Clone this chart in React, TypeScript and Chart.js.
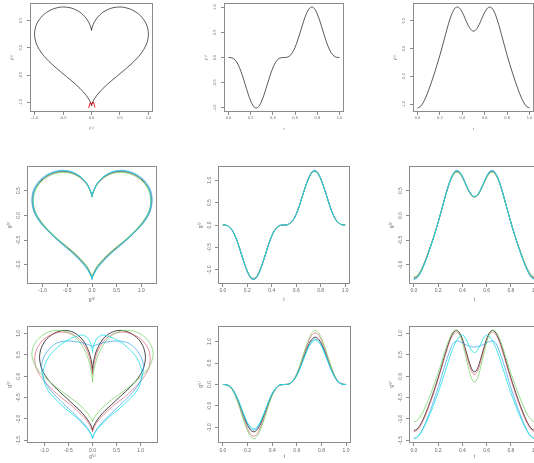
import React, { useEffect, useRef } from "react";
import { Chart, registerables } from "chart.js";

Chart.register(...registerables);

// Parameter grid shared by every curve
const T = [0, 0.025, 0.05, 0.075, 0.1, 0.125, 0.15, 0.175, 0.2, 0.225, 0.25, 0.275, 0.3, 0.325, 0.35, 0.375, 0.4, 0.425, 0.45, 0.475, 0.5, 0.525, 0.55, 0.575, 0.6, 0.625, 0.65, 0.675, 0.7, 0.725, 0.75, 0.775, 0.8, 0.825, 0.85, 0.875, 0.9, 0.925, 0.95, 0.975, 1];

// Template heart: first and second coordinate
const F1 = [0, -0.004, -0.03, -0.094, -0.203, -0.354, -0.53, -0.707, -0.86, -0.964, -1, -0.964, -0.86, -0.707, -0.53, -0.354, -0.203, -0.094, -0.03, -0.004, 0, 0.004, 0.03, 0.094, 0.203, 0.354, 0.53, 0.707, 0.86, 0.964, 1, 0.964, 0.86, 0.707, 0.53, 0.354, 0.203, 0.094, 0.03, 0.004, 0];
const F2 = [-1.063, -1.039, -0.971, -0.869, -0.742, -0.6, -0.449, -0.289, -0.119, 0.063, 0.25, 0.43, 0.586, 0.695, 0.744, 0.725, 0.65, 0.54, 0.427, 0.343, 0.313, 0.343, 0.427, 0.54, 0.65, 0.725, 0.744, 0.695, 0.586, 0.43, 0.25, 0.063, -0.119, -0.289, -0.449, -0.6, -0.742, -0.869, -0.971, -1.039, -1.063];
// Small red trace at the lower tip
const MARK_X = [-0.05, -0.02, 0, 0.03, 0.06];
const MARK_Y = [-1.1, -1.0, -1.04, -0.99, -1.09];

// Second row: five nearly aligned curves
const G1_BLACK = [0, -0.005, -0.04, -0.11, -0.24, -0.42, -0.64, -0.85, -1.03, -1.16, -1.2, -1.16, -1.03, -0.85, -0.64, -0.42, -0.24, -0.11, -0.04, -0.005, 0, 0.005, 0.04, 0.11, 0.24, 0.42, 0.64, 0.85, 1.03, 1.16, 1.2, 1.16, 1.03, 0.85, 0.64, 0.42, 0.24, 0.11, 0.04, 0.005, 0];
const G1_RED = [0, -0.005, -0.04, -0.11, -0.25, -0.43, -0.64, -0.86, -1.04, -1.17, -1.21, -1.17, -1.04, -0.86, -0.64, -0.43, -0.25, -0.11, -0.04, -0.005, 0, 0.005, 0.04, 0.11, 0.25, 0.43, 0.64, 0.86, 1.04, 1.17, 1.21, 1.17, 1.04, 0.86, 0.64, 0.43, 0.25, 0.11, 0.04, 0.005, 0];
const G1_GREEN = [0, -0.005, -0.04, -0.11, -0.24, -0.42, -0.63, -0.84, -1.02, -1.15, -1.19, -1.15, -1.02, -0.84, -0.63, -0.42, -0.24, -0.11, -0.04, -0.005, 0, 0.005, 0.04, 0.11, 0.24, 0.42, 0.63, 0.84, 1.02, 1.15, 1.19, 1.15, 1.02, 0.84, 0.63, 0.42, 0.24, 0.11, 0.04, 0.005, 0];
const G1_BLUE = [0, -0.005, -0.04, -0.12, -0.25, -0.43, -0.65, -0.86, -1.05, -1.18, -1.22, -1.18, -1.05, -0.86, -0.65, -0.43, -0.25, -0.12, -0.04, -0.005, 0, 0.005, 0.04, 0.12, 0.25, 0.43, 0.65, 0.86, 1.05, 1.18, 1.22, 1.18, 1.05, 0.86, 0.65, 0.43, 0.25, 0.12, 0.04, 0.005, 0];
const G1_CYAN = [0, -0.005, -0.04, -0.11, -0.24, -0.43, -0.64, -0.85, -1.04, -1.16, -1.2, -1.16, -1.04, -0.85, -0.64, -0.43, -0.24, -0.11, -0.04, -0.005, 0, 0.005, 0.04, 0.11, 0.24, 0.43, 0.64, 0.85, 1.04, 1.16, 1.2, 1.16, 1.04, 0.85, 0.64, 0.43, 0.24, 0.11, 0.04, 0.005, 0];
const G2_BLACK = [-1.28, -1.25, -1.17, -1.04, -0.89, -0.72, -0.54, -0.35, -0.14, 0.08, 0.3, 0.52, 0.7, 0.83, 0.89, 0.87, 0.78, 0.65, 0.51, 0.41, 0.38, 0.41, 0.51, 0.65, 0.78, 0.87, 0.89, 0.83, 0.7, 0.52, 0.3, 0.08, -0.14, -0.35, -0.54, -0.72, -0.89, -1.04, -1.17, -1.25, -1.28];
const G2_RED = [-1.26, -1.24, -1.16, -1.03, -0.88, -0.71, -0.53, -0.34, -0.14, 0.07, 0.3, 0.51, 0.7, 0.83, 0.88, 0.86, 0.77, 0.64, 0.51, 0.41, 0.37, 0.41, 0.51, 0.64, 0.77, 0.86, 0.88, 0.83, 0.7, 0.51, 0.3, 0.07, -0.14, -0.34, -0.53, -0.71, -0.88, -1.03, -1.16, -1.24, -1.26];
const G2_GREEN = [-1.24, -1.22, -1.14, -1.02, -0.87, -0.7, -0.53, -0.34, -0.14, 0.07, 0.29, 0.5, 0.69, 0.81, 0.87, 0.85, 0.76, 0.63, 0.5, 0.4, 0.37, 0.4, 0.5, 0.63, 0.76, 0.85, 0.87, 0.81, 0.69, 0.5, 0.29, 0.07, -0.14, -0.34, -0.53, -0.7, -0.87, -1.02, -1.14, -1.22, -1.24];
const G2_BLUE = [-1.3, -1.27, -1.19, -1.06, -0.91, -0.73, -0.55, -0.35, -0.15, 0.08, 0.31, 0.53, 0.72, 0.85, 0.91, 0.89, 0.79, 0.66, 0.52, 0.42, 0.38, 0.42, 0.52, 0.66, 0.79, 0.89, 0.91, 0.85, 0.72, 0.53, 0.31, 0.08, -0.15, -0.35, -0.55, -0.73, -0.91, -1.06, -1.19, -1.27, -1.3];
const G2_CYAN = [-1.29, -1.26, -1.18, -1.05, -0.9, -0.73, -0.54, -0.35, -0.14, 0.08, 0.3, 0.52, 0.71, 0.84, 0.9, 0.88, 0.79, 0.65, 0.52, 0.42, 0.38, 0.42, 0.52, 0.65, 0.79, 0.88, 0.9, 0.84, 0.71, 0.52, 0.3, 0.08, -0.14, -0.35, -0.54, -0.73, -0.9, -1.05, -1.18, -1.26, -1.29];

// Third row: five curves with visible amplitude and shape variation
const H1_BLACK = [0, -0.004, -0.03, -0.1, -0.22, -0.39, -0.58, -0.78, -0.95, -1.06, -1.1, -1.06, -0.95, -0.78, -0.58, -0.39, -0.22, -0.1, -0.03, -0.004, 0, 0.004, 0.03, 0.1, 0.22, 0.39, 0.58, 0.78, 0.95, 1.06, 1.1, 1.06, 0.95, 0.78, 0.58, 0.39, 0.22, 0.1, 0.03, 0.004, 0];
const H1_RED = [0, -0.005, -0.04, -0.11, -0.24, -0.42, -0.64, -0.85, -1.03, -1.16, -1.2, -1.16, -1.03, -0.85, -0.64, -0.42, -0.24, -0.11, -0.04, -0.005, 0, 0.005, 0.04, 0.11, 0.24, 0.42, 0.64, 0.85, 1.03, 1.16, 1.2, 1.16, 1.03, 0.85, 0.64, 0.42, 0.24, 0.11, 0.04, 0.005, 0];
const H1_GREEN = [0, -0.005, -0.04, -0.12, -0.26, -0.45, -0.67, -0.89, -1.08, -1.21, -1.26, -1.21, -1.08, -0.89, -0.67, -0.45, -0.26, -0.12, -0.04, -0.005, 0, 0.005, 0.04, 0.12, 0.26, 0.45, 0.67, 0.89, 1.08, 1.21, 1.26, 1.21, 1.08, 0.89, 0.67, 0.45, 0.26, 0.12, 0.04, 0.005, 0];
const H1_BLUE = [0, -0.004, -0.03, -0.1, -0.22, -0.38, -0.56, -0.75, -0.91, -1.02, -1.06, -1.02, -0.91, -0.75, -0.56, -0.38, -0.22, -0.1, -0.03, -0.004, 0, 0.004, 0.03, 0.1, 0.22, 0.38, 0.56, 0.75, 0.91, 1.02, 1.06, 1.02, 0.91, 0.75, 0.56, 0.38, 0.22, 0.1, 0.03, 0.004, 0];
const H1_CYAN = [0, -0.004, -0.03, -0.1, -0.21, -0.36, -0.55, -0.73, -0.89, -0.99, -1.03, -0.99, -0.89, -0.73, -0.55, -0.36, -0.21, -0.1, -0.03, -0.004, 0, 0.004, 0.03, 0.1, 0.21, 0.36, 0.55, 0.73, 0.89, 0.99, 1.03, 0.99, 0.89, 0.73, 0.55, 0.36, 0.21, 0.1, 0.03, 0.004, 0];
const H2_BLACK = [-1.27, -1.24, -1.15, -1.02, -0.85, -0.67, -0.47, -0.26, -0.04, 0.19, 0.44, 0.67, 0.87, 1.01, 1.07, 1.02, 0.87, 0.64, 0.39, 0.18, 0.1, 0.18, 0.39, 0.64, 0.87, 1.02, 1.07, 1.01, 0.87, 0.67, 0.44, 0.19, -0.04, -0.26, -0.47, -0.67, -0.85, -1.02, -1.15, -1.24, -1.27];
const H2_RED = [-1.3, -1.27, -1.18, -1.05, -0.89, -0.7, -0.51, -0.3, -0.08, 0.16, 0.4, 0.63, 0.84, 0.97, 1.03, 0.98, 0.83, 0.59, 0.33, 0.12, 0.04, 0.12, 0.33, 0.59, 0.83, 0.98, 1.03, 0.97, 0.84, 0.63, 0.4, 0.16, -0.08, -0.3, -0.51, -0.7, -0.89, -1.05, -1.18, -1.27, -1.3];
const H2_GREEN = [-1.07, -1.04, -0.96, -0.84, -0.68, -0.51, -0.33, -0.13, 0.07, 0.29, 0.52, 0.74, 0.92, 1.04, 1.07, 0.99, 0.79, 0.5, 0.2, -0.05, -0.14, -0.05, 0.2, 0.5, 0.79, 0.99, 1.07, 1.04, 0.92, 0.74, 0.52, 0.29, 0.07, -0.13, -0.33, -0.51, -0.68, -0.84, -0.96, -1.04, -1.07];
const H2_BLUE = [-1.46, -1.43, -1.35, -1.22, -1.06, -0.88, -0.69, -0.48, -0.27, -0.04, 0.2, 0.42, 0.62, 0.77, 0.82, 0.81, 0.78, 0.74, 0.71, 0.69, 0.68, 0.69, 0.71, 0.74, 0.78, 0.81, 0.82, 0.77, 0.62, 0.42, 0.2, -0.04, -0.27, -0.48, -0.69, -0.88, -1.06, -1.22, -1.35, -1.43, -1.46];
const H2_CYAN = [-1.46, -1.43, -1.36, -1.24, -1.1, -0.94, -0.77, -0.58, -0.39, -0.18, 0.04, 0.26, 0.48, 0.67, 0.82, 0.92, 0.96, 0.89, 0.74, 0.61, 0.55, 0.61, 0.74, 0.89, 0.96, 0.92, 0.82, 0.67, 0.48, 0.26, 0.04, -0.18, -0.39, -0.58, -0.77, -0.94, -1.1, -1.24, -1.36, -1.43, -1.46];

// Tick positions
const TICKS_T = [0, 0.2, 0.4, 0.6, 0.8, 1];
const TICKS_UNIT = [-1, -0.5, 0, 0.5, 1];
const TICKS_LOW = [-1, -0.5, 0, 0.5];
const TICKS_WIDE = [-1.5, -1, -0.5, 0, 0.5, 1];

const C_BLACK = "rgba(0,0,0,0.72)";
const C_RED = "rgba(223,83,107,0.65)";
const C_GREEN = "rgba(97,208,79,0.65)";
const C_BLUE = "rgba(34,151,230,0.65)";
const C_CYAN = "rgba(40,226,229,0.85)";
const TEXT = "#6a6a6a";
const FONT = "'Liberation Sans', Arial, sans-serif";

type Series = { xs: number[]; ys: number[]; color: string };
type Spec = {
  box: [number, number, number, number];
  series: Series[];
  xTicks: number[];
  yTicks: number[];
  xLabel: string;
  yLabel: string;
  font: number;
  yTickPad: number;
  xTickPad: number;
  xTitlePad: number;
  parametric: boolean;
};

const ROW2_X = [G1_BLACK, G1_RED, G1_GREEN, G1_BLUE, G1_CYAN];
const ROW2_Y = [G2_BLACK, G2_RED, G2_GREEN, G2_BLUE, G2_CYAN];
const ROW3_X = [H1_BLACK, H1_RED, H1_GREEN, H1_BLUE, H1_CYAN];
const ROW3_Y = [H2_BLACK, H2_RED, H2_GREEN, H2_BLUE, H2_CYAN];
const COLORS = [C_BLACK, C_RED, C_GREEN, C_BLUE, C_CYAN];

const pairs = (xs: number[][], ys: number[][]): Series[] =>
  xs.map((x, i) => ({ xs: x, ys: ys[i], color: COLORS[i] }));
const overT = (ys: number[][]): Series[] =>
  ys.map((y, i) => ({ xs: T, ys: y, color: COLORS[i] }));

const R1 = { font: 4, yTickPad: 3, xTickPad: 0.8, xTitlePad: 3 };
const R2 = { font: 5, yTickPad: 1, xTickPad: 0.8, xTitlePad: 3 };
const R3 = { font: 5, yTickPad: 1, xTickPad: 2, xTitlePad: 5 };

const PANELS: Spec[] = [
  {
    box: [30, 3, 153, 112], ...R1, parametric: true,
    series: [
      { xs: F1, ys: F2, color: "rgba(0,0,0,0.65)" },
      { xs: MARK_X, ys: MARK_Y, color: "rgba(235,0,0,0.9)" },
    ],
    xTicks: TICKS_UNIT, yTicks: TICKS_LOW, xLabel: "f⁽¹⁾", yLabel: "f⁽²⁾",
  },
  {
    box: [224, 3, 344, 112], ...R1, parametric: false,
    series: [{ xs: T, ys: F1, color: "rgba(0,0,0,0.65)" }],
    xTicks: TICKS_T, yTicks: TICKS_UNIT, xLabel: "t", yLabel: "f⁽¹⁾",
  },
  {
    box: [413, 3, 534, 112], ...R1, parametric: false,
    series: [{ xs: T, ys: F2, color: "rgba(0,0,0,0.65)" }],
    xTicks: TICKS_T, yTicks: TICKS_LOW, xLabel: "t", yLabel: "f⁽²⁾",
  },
  {
    box: [27, 166, 157, 284], ...R2, parametric: true,
    series: pairs(ROW2_X, ROW2_Y),
    xTicks: TICKS_UNIT, yTicks: TICKS_LOW, xLabel: "g⁽¹⁾", yLabel: "g⁽²⁾",
  },
  {
    box: [218, 166, 350, 284], ...R2, parametric: false,
    series: overT(ROW2_X),
    xTicks: TICKS_T, yTicks: TICKS_UNIT, xLabel: "t", yLabel: "g⁽¹⁾",
  },
  {
    box: [409, 166, 540, 284], ...R2, parametric: false,
    series: overT(ROW2_Y),
    xTicks: TICKS_T, yTicks: TICKS_LOW, xLabel: "t", yLabel: "g⁽²⁾",
  },
  {
    box: [27, 326, 158, 443], ...R3, parametric: true,
    series: pairs(ROW3_X, ROW3_Y),
    xTicks: TICKS_UNIT, yTicks: TICKS_WIDE, xLabel: "g⁽¹⁾", yLabel: "g⁽²⁾",
  },
  {
    box: [218, 326, 351, 443], ...R3, parametric: false,
    series: overT(ROW3_X),
    xTicks: TICKS_T, yTicks: TICKS_UNIT, xLabel: "t", yLabel: "g⁽¹⁾",
  },
  {
    box: [409, 326, 540, 443], ...R3, parametric: false,
    series: overT(ROW3_Y),
    xTicks: TICKS_T, yTicks: TICKS_WIDE, xLabel: "t", yLabel: "g⁽²⁾",
  },
];

const LEFT = 26;
const TOP = 8;
const RIGHT = 10;
const BOTTOM = 22;

// Frame around the plotting region
const framePlugin = {
  id: "frame",
  afterDraw(chart: any) {
    const { ctx, chartArea: a } = chart;
    ctx.save();
    ctx.strokeStyle = "#8c8c8c";
    ctx.lineWidth = 1;
    ctx.strokeRect(
      Math.round(a.left) + 0.5,
      Math.round(a.top) + 0.5,
      Math.round(a.right - a.left) - 1,
      Math.round(a.bottom - a.top) - 1
    );
    ctx.restore();
  },
};

function extent(values: number[]): [number, number] {
  const lo = Math.min(...values);
  const hi = Math.max(...values);
  const pad = (hi - lo) * 0.04;
  return [lo - pad, hi + pad];
}

function Panel({ spec }: { spec: Spec }) {
  const ref = useRef<HTMLCanvasElement>(null);
  const [l, t, r, b] = spec.box;
  const w = r - l + LEFT + RIGHT;
  const h = b - t + TOP + BOTTOM;

  useEffect(() => {
    const [xMin, xMax] = extent(spec.series.flatMap((s) => s.xs));
    const [yMin, yMax] = extent(spec.series.flatMap((s) => s.ys));
    const n = spec.series.length;
    const tickFont = { family: FONT, size: spec.font };
    const grid = {
      display: true,
      drawOnChartArea: false,
      drawTicks: true,
      tickLength: 3,
      color: "#8c8c8c",
      lineWidth: 1,
    };
    const fmt = (v: any) => Number(v).toFixed(1);

    const chart = new Chart(ref.current as HTMLCanvasElement, {
      type: "scatter",
      data: {
        datasets: spec.series.map((s, i) => ({
          data: s.xs.map((x, j) => ({ x, y: s.ys[j] })),
          showLine: true,
          borderColor: s.color,
          backgroundColor: s.color,
          borderWidth: 1,
          pointRadius: 0,
          pointHoverRadius: 0,
          tension: spec.parametric ? 0.3 : 0.4,
          cubicInterpolationMode: spec.parametric ? "default" : "monotone",
          order: n - i,
        })) as any,
      },
      options: {
        responsive: false,
        animation: false,
        events: [],
        layout: { padding: { top: TOP, right: RIGHT, left: 0, bottom: 0 } },
        plugins: { legend: { display: false }, tooltip: { enabled: false } },
        scales: {
          x: {
            type: "linear",
            position: "bottom",
            min: xMin,
            max: xMax,
            grid,
            border: { display: false },
            afterBuildTicks: (sc: any) => {
              sc.ticks = spec.xTicks.map((v) => ({ value: v }));
            },
            afterFit: (sc: any) => {
              sc.height = BOTTOM;
              sc.paddingLeft = 0;
              sc.paddingRight = 0;
            },
            ticks: {
              autoSkip: false,
              maxRotation: 0,
              minRotation: 0,
              padding: spec.xTickPad,
              color: TEXT,
              font: tickFont,
              callback: fmt,
            },
            title: {
              display: true,
              text: spec.xLabel,
              color: TEXT,
              font: { family: FONT, size: spec.font },
              padding: { top: 0, bottom: spec.xTitlePad },
            },
          },
          y: {
            type: "linear",
            position: "left",
            min: yMin,
            max: yMax,
            grid,
            border: { display: false },
            afterBuildTicks: (sc: any) => {
              sc.ticks = spec.yTicks.map((v) => ({ value: v }));
            },
            afterFit: (sc: any) => {
              sc.width = LEFT;
              sc.paddingTop = 0;
              sc.paddingBottom = 0;
            },
            ticks: {
              autoSkip: false,
              minRotation: 90,
              maxRotation: 90,
              crossAlign: "center",
              padding: spec.yTickPad,
              color: TEXT,
              font: tickFont,
              callback: fmt,
            },
            title: {
              display: true,
              text: spec.yLabel,
              color: TEXT,
              font: { family: FONT, size: spec.font },
              padding: { top: 6, bottom: 0 },
            },
          },
        },
      } as any,
      plugins: [framePlugin],
    });
    return () => chart.destroy();
  }, [spec]);

  return (
    <canvas
      ref={ref}
      width={w}
      height={h}
      style={{ position: "absolute", left: l - LEFT, top: t - TOP, width: w, height: h }}
    />
  );
}

export default function App() {
  return (
    <div
      style={{
        position: "absolute",
        left: 0,
        top: 0,
        width: 534,
        height: 463,
        overflow: "hidden",
        background: "#fff",
      }}
    >
      {PANELS.map((p, i) => (
        <Panel key={i} spec={p} />
      ))}
    </div>
  );
}
